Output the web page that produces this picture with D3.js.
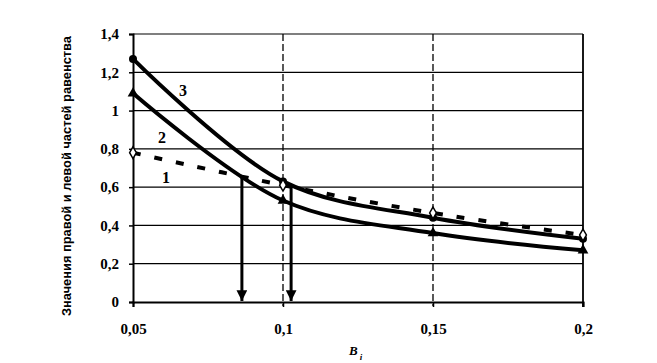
<!DOCTYPE html>
<html><head><meta charset="utf-8">
<script src="https://cdn.jsdelivr.net/npm/d3@7"></script>
<style>body{margin:0;background:#fff}svg{display:block}</style>
</head><body>
<script>
const xValues = [0.05, 0.1, 0.15, 0.2];
const series1 = [0.78, 0.61, 0.465, 0.35];   // dashed, open diamonds
const series2 = [1.09, 0.53, 0.36, 0.27];    // triangles
const series3 = [1.27, 0.63, 0.44, 0.33];    // circles
const xTicks = [0.05, 0.1, 0.15, 0.2];
const xTickLabels = ["0,05", "0,1", "0,15", "0,2"];
const yTicks = [0, 0.2, 0.4, 0.6, 0.8, 1, 1.2, 1.4];
const yTickLabels = ["0", "0,2", "0,4", "0,6", "0,8", "1", "1,2", "1,4"];
const arrowX = [0.0863, 0.1027];
const arrowTop = [0.66, 0.61];
const yTitle = "Значения правой и левой частей равенства";

const W = 657, H = 363;
const svg = d3.select("body").append("svg").attr("width", W).attr("height", H);
const x = d3.scaleLinear().domain([0.05, 0.2]).range([133, 583]);
const y = d3.scaleLinear().domain([0, 1.4]).range([302, 34]);

// horizontal gridlines
svg.append("g").selectAll("line").data(yTicks.slice(1)).join("line")
  .attr("x1", x(0.05)).attr("x2", x(0.2)).attr("y1", d => y(d)).attr("y2", d => y(d))
  .attr("stroke", "#000").attr("stroke-width", 1.2);
// vertical gridlines (dashed)
svg.append("g").selectAll("line").data([0.1, 0.15]).join("line")
  .attr("x1", d => x(d)).attr("x2", d => x(d)).attr("y1", y(1.4)).attr("y2", y(0) + 4)
  .attr("stroke", "#000").attr("stroke-width", 1.3).attr("stroke-dasharray", "7,3");
// right border
svg.append("line").attr("x1", x(0.2)).attr("x2", x(0.2)).attr("y1", y(1.4)).attr("y2", y(0) + 5)
  .attr("stroke", "#000").attr("stroke-width", 1.8);

// axes
const yAxis = d3.axisLeft(y).tickValues(yTicks).tickFormat((d, i) => yTickLabels[i]).tickSize(4).tickPadding(10);
const gy = svg.append("g").attr("transform", `translate(${x(0.05)},0)`).call(yAxis);
const xAxis = d3.axisBottom(x).tickValues(xTicks).tickFormat((d, i) => xTickLabels[i]).tickSize(5).tickPadding(16);
const gx = svg.append("g").attr("transform", `translate(0,${y(0)})`).call(xAxis);
[gy, gx].forEach(g => {
  g.select(".domain").attr("stroke", "#000").attr("stroke-width", 2);
  g.selectAll(".tick line").attr("stroke", "#000").attr("stroke-width", 1.5);
  g.selectAll(".tick text").attr("fill", "#000")
    .style("font-family", "'Liberation Serif','Times New Roman',serif")
    .style("font-weight", "bold").style("font-size", "15px");
});

// series lines
const line = d3.line().x(d => x(d[0])).y(d => y(d[1])).curve(d3.curveCatmullRom.alpha(0.5));
const pts = s => xValues.map((v, i) => [v, s[i]]);
svg.append("path").attr("d", line(pts(series2))).attr("fill", "none").attr("stroke", "#000").attr("stroke-width", 4);
svg.append("path").attr("d", line(pts(series3))).attr("fill", "none").attr("stroke", "#000").attr("stroke-width", 4);
svg.append("path").attr("d", line(pts(series1))).attr("fill", "none").attr("stroke", "#000")
  .attr("stroke-width", 4).attr("stroke-dasharray", "8,14");

// markers
svg.append("g").selectAll("circle").data(pts(series3)).join("circle")
  .attr("cx", d => x(d[0])).attr("cy", d => y(d[1])).attr("r", 4).attr("fill", "#000");
svg.append("g").selectAll("path").data(pts(series2)).join("path")
  .attr("transform", d => `translate(${x(d[0])},${y(d[1])})`)
  .attr("d", d3.symbol(d3.symbolTriangle, 50)).attr("fill", "#000");
svg.append("g").selectAll("path").data(pts(series1)).join("path")
  .attr("transform", d => `translate(${x(d[0])},${y(d[1])})`)
  .attr("d", d3.symbol(d3.symbolDiamond, 40)).attr("fill", "#fff").attr("stroke", "#000").attr("stroke-width", 1.5);

// arrows
svg.append("defs").append("marker").attr("id", "ah").attr("viewBox", "0 0 10 10")
  .attr("refX", 10).attr("refY", 5).attr("markerWidth", 4).attr("markerHeight", 3.6)
  .attr("orient", "auto").attr("markerUnits", "strokeWidth")
  .append("path").attr("d", "M0,0L10,5L0,10Z").attr("fill", "#000");
svg.append("g").selectAll("line").data(arrowX).join("line")
  .attr("x1", d => x(d)).attr("x2", d => x(d))
  .attr("y1", (d, i) => y(arrowTop[i])).attr("y2", y(0) - 1)
  .attr("stroke", "#000").attr("stroke-width", 3).attr("marker-end", "url(#ah)");

// series labels
const lab = svg.append("g").style("font-family", "'Liberation Serif','Times New Roman',serif")
  .style("font-size", "16px").style("font-weight", "bold").attr("fill", "#000");
lab.append("text").attr("x", 179).attr("y", 96).text("3");
lab.append("text").attr("x", 158).attr("y", 143).text("2");
lab.append("text").attr("x", 162).attr("y", 183).text("1");

// axis titles
const xt = svg.append("text").attr("x", 349).attr("y", 355)
  .style("font-family", "'Liberation Serif','Times New Roman',serif")
  .style("font-weight", "bold").style("font-style", "italic").style("font-size", "13px").attr("fill", "#000");
xt.append("tspan").text("B");
xt.append("tspan").attr("dx", 2).attr("dy", 5).style("font-size", "9px").text("i");

svg.append("text").attr("transform", "translate(71,176) rotate(-90)").attr("text-anchor", "middle")
  .style("font-family", "'Liberation Sans Narrow','Liberation Sans',Arial,sans-serif")
  .style("font-weight", "bold").style("font-size", "12px").attr("fill", "#000")
  .attr("textLength", 280).attr("lengthAdjust", "spacingAndGlyphs").text(yTitle);
</script>
</body></html>
